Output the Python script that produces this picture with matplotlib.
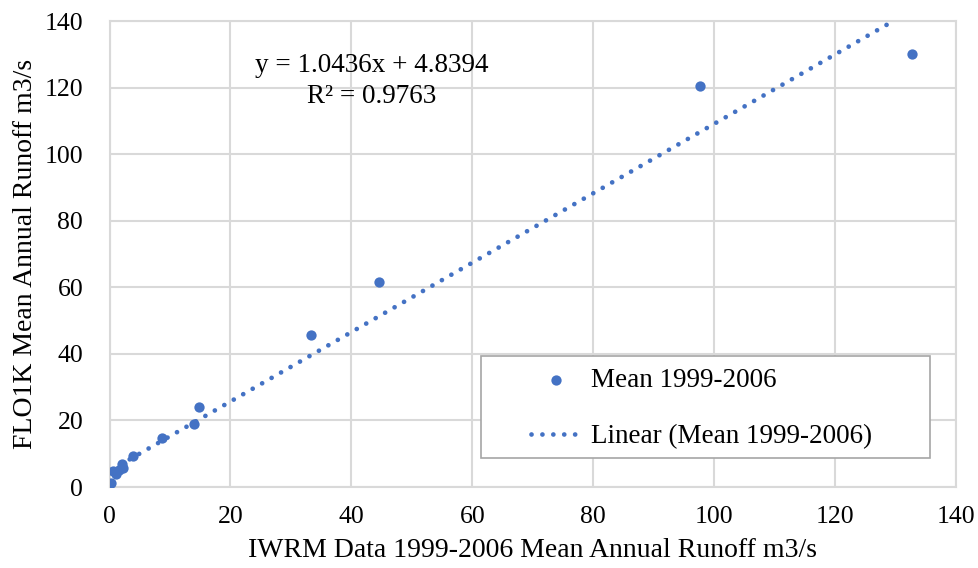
import numpy as np
import matplotlib.pyplot as plt
from matplotlib.patches import Rectangle

# dane
iwrm = [0.2, 0.6, 1.0, 1.5, 2.0, 2.3, 3.8, 8.6, 13.9, 14.8, 33.4, 44.5, 97.7, 132.8]
flo1k = [1.1, 4.8, 4.0, 5.0, 7.0, 5.6, 9.4, 14.6, 18.8, 24.1, 45.7, 61.6, 120.5, 130.1]
slope = 1.0436
intercept = 4.8394
r2 = 0.9763

niebieski = '#4472C4'
szary = '#D9D9D9'

plt.rcParams['font.family'] = ['Liberation Serif', 'DejaVu Serif']

W, H = 979, 568
fig = plt.figure(figsize=(W / 100, H / 100), dpi=100)
ax = fig.add_axes([0.1119, 0.1426, 0.8646, 0.8197])

ax.scatter(iwrm, flo1k, s=55, color=niebieski, zorder=3, label='Mean 1999-2006', linewidths=0)

xt = np.linspace(min(iwrm), max(iwrm), 200)
ax.plot(xt, slope * xt + intercept, color=niebieski, lw=3.4,
        linestyle=(0, (0.01, 2.3)), dash_capstyle='round', zorder=2,
        label='Linear (Mean 1999-2006)')

ax.set_xlim(0, 140)
ax.set_ylim(0, 140)
ax.set_xticks(range(0, 141, 20))
ax.set_yticks(range(0, 141, 20))
ax.grid(True, color=szary, lw=1.5)
ax.set_axisbelow(True)
for s in ax.spines.values():
    s.set_color(szary)
    s.set_linewidth(1.5)
ax.tick_params(length=0, labelsize=18.5)
ax.tick_params(axis='x', pad=14)
ax.tick_params(axis='y', pad=19)

ax.set_xlabel('IWRM Data 1999-2006 Mean Annual Runoff m3/s', fontsize=20, labelpad=7)
ax.set_ylabel('FLO1K Mean Annual Runoff m3/s', fontsize=20, labelpad=5)

fig.text(372 / W, 1 - 81 / H, 'y = %.4fx + %.4f\nR² = %.4f' % (slope, intercept, r2),
         ha='center', va='center', fontsize=19.5, linespacing=1.3)

# ramka legendy
ax.add_patch(Rectangle((481 / W, 1 - 458 / H), (930 - 481) / W, (458 - 356) / H,
                       transform=fig.transFigure, facecolor='white', clip_on=False,
                       edgecolor='#A6A6A6', lw=1.2, zorder=5))
leg = ax.legend(loc='upper left', bbox_to_anchor=(531 / W, 1 - 368 / H),
                bbox_transform=fig.transFigure, borderaxespad=0, borderpad=0,
                fontsize=19.5, frameon=False, handlelength=1.85, handletextpad=0.35,
                labelspacing=1.15)
leg.set_zorder(6)

fig.savefig('out.png', dpi=100)
